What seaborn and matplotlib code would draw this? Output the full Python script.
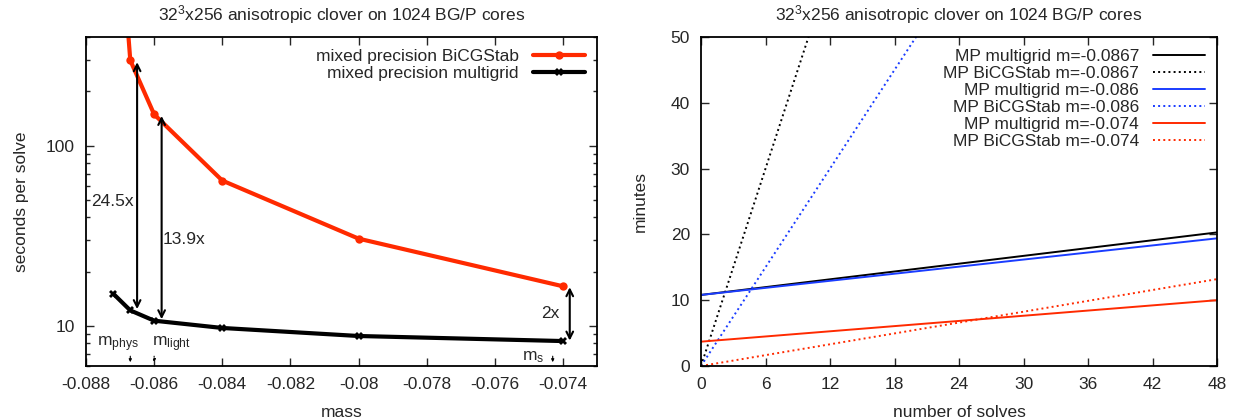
import numpy as np
import pandas as pd
import matplotlib
matplotlib.use("Agg")
import matplotlib.pyplot as plt
from matplotlib.ticker import FuncFormatter, LogLocator, NullFormatter
import seaborn as sns

sns.set_style("ticks")
plt.rcParams["font.family"] = ["Liberation Sans", "DejaVu Sans"]
plt.rcParams["mathtext.fontset"] = "custom"
plt.rcParams["mathtext.rm"] = "Liberation Sans"
plt.rcParams["mathtext.it"] = "Liberation Sans"
plt.rcParams["font.size"] = 12.5

RED = "#ff2a00"
BLUE = "#1a3cff"
TITLE = r"32$^3$x256 anisotropic clover on 1024 BG/P cores"

# left panel: seconds per solve vs mass
mass = [-0.0872, -0.0867, -0.086, -0.084, -0.080, -0.074]
bicgstab_sec = [5000, 297, 149, 64, 30.5, 16.6]
multigrid_sec = [15.1, 12.2, 10.7, 9.75, 8.8, 8.25]

# right panel: minutes vs number of solves (line endpoints at 0 and 48 solves)
solves = [0, 48]
mg_0867 = [10.8, 20.3]
bicg_0867 = [0.0, 240.0]
mg_086 = [10.8, 19.4]
bicg_086 = [0.0, 120.0]
mg_074 = [3.7, 10.0]
bicg_074 = [0.0, 13.2]

fig = plt.figure(figsize=(12.4, 4.18), dpi=100)
axL = fig.add_axes([86 / 1240, 52 / 418, 511 / 1240, 329 / 418])
axR = fig.add_axes([701 / 1240, 52 / 418, 516 / 1240, 329 / 418])

df_left = pd.DataFrame({
    "mass": mass * 2,
    "sec": bicgstab_sec + multigrid_sec,
    "solver": ["mixed precision BiCGStab"] * len(mass) + ["mixed precision multigrid"] * len(mass),
})
sns.lineplot(data=df_left, x="mass", y="sec", hue="solver", style="solver",
             palette=[RED, "black"], markers=["o", "X"], dashes=False,
             markersize=6, linewidth=3, ax=axL, markeredgewidth=0)

axL.set_yscale("log")
axL.set_xlim(-0.088, -0.073)
axL.set_ylim(6, 400)
axL.set_xticks(np.arange(-0.088, -0.0735, 0.002))
axL.xaxis.set_major_formatter(FuncFormatter(lambda v, p: "%g" % round(v, 4)))
axL.set_yticks([10, 100])
axL.yaxis.set_major_formatter(FuncFormatter(lambda v, p: "%g" % v))
axL.yaxis.set_minor_locator(LogLocator(base=10, subs=np.arange(2, 10)))
axL.yaxis.set_minor_formatter(NullFormatter())
axL.set_xlabel("mass", labelpad=9)
axL.set_ylabel("seconds per solve", labelpad=12)
axL.set_title(TITLE, fontsize=12.5, pad=12)
axL.legend(loc="upper right", frameon=False, markerfirst=False, handlelength=3.0,
           borderaxespad=0.3, labelspacing=0.1, fontsize=12.5)

arrow = dict(arrowstyle="<->", color="black", lw=1.5, mutation_scale=12, shrinkA=0, shrinkB=0)
axL.annotate("", xy=(-0.0865, 12.4), xytext=(-0.0865, 290), arrowprops=arrow)
axL.annotate("", xy=(-0.08578, 10.9), xytext=(-0.08578, 146), arrowprops=arrow)
axL.annotate("", xy=(-0.0738, 8.3), xytext=(-0.0738, 16.4), arrowprops=arrow)
axL.text(-0.08785, 49, "24.5x", ha="left", va="center")
axL.text(-0.08575, 30, "13.9x", ha="left", va="center")
axL.text(-0.0741, 11.8, "2x", ha="right", va="center")
axL.text(-0.08768, 7.9, r"m$_{\rm phys}$", ha="left", va="center")
axL.text(-0.08605, 7.9, r"m$_{\rm light}$", ha="left", va="center")
axL.text(-0.07455, 6.7, r"m$_{\rm s}$", ha="right", va="center")
small = dict(arrowstyle="-|>", color="black", lw=0.8, mutation_scale=4, shrinkA=0, shrinkB=0)
axL.annotate("", xy=(-0.0867, 6.3), xytext=(-0.0867, 6.8), arrowprops=small)
axL.annotate("", xy=(-0.086, 6.3), xytext=(-0.086, 6.8), arrowprops=dict(small, linestyle=":"))
axL.annotate("", xy=(-0.0743, 6.3), xytext=(-0.0743, 6.8), arrowprops=small)

right_series = [
    ("MP multigrid m=-0.0867", mg_0867, "black", "-"),
    ("MP BiCGStab m=-0.0867", bicg_0867, "black", ":"),
    ("MP multigrid m=-0.086", mg_086, BLUE, "-"),
    ("MP BiCGStab m=-0.086", bicg_086, BLUE, ":"),
    ("MP multigrid m=-0.074", mg_074, RED, "-"),
    ("MP BiCGStab m=-0.074", bicg_074, RED, ":"),
]
for label, vals, col, ls in right_series:
    sns.lineplot(x=solves, y=vals, color=col, linestyle=ls, linewidth=1.4,
                 label=label, ax=axR)

axR.set_xlim(0, 48)
axR.set_ylim(0, 50)
axR.set_xticks(np.arange(0, 49, 6))
axR.set_yticks(np.arange(0, 51, 10))
axR.set_xlabel("number of solves", labelpad=9)
axR.set_ylabel("minutes", labelpad=16)
axR.set_title(TITLE, fontsize=12.5, pad=12)
axR.legend(loc="upper right", frameon=False, markerfirst=False, handlelength=3.0,
           borderaxespad=0.3, labelspacing=0.1, fontsize=12.5)

for ax in (axL, axR):
    ax.tick_params(which="both", direction="in", top=True, right=True, pad=8)
    ax.tick_params(which="major", length=6, width=1)
    ax.tick_params(which="minor", length=3, width=1)
    for s in ax.spines.values():
        s.set_linewidth(1.3)
        s.set_color("black")

fig.savefig("out.png", dpi=100)
